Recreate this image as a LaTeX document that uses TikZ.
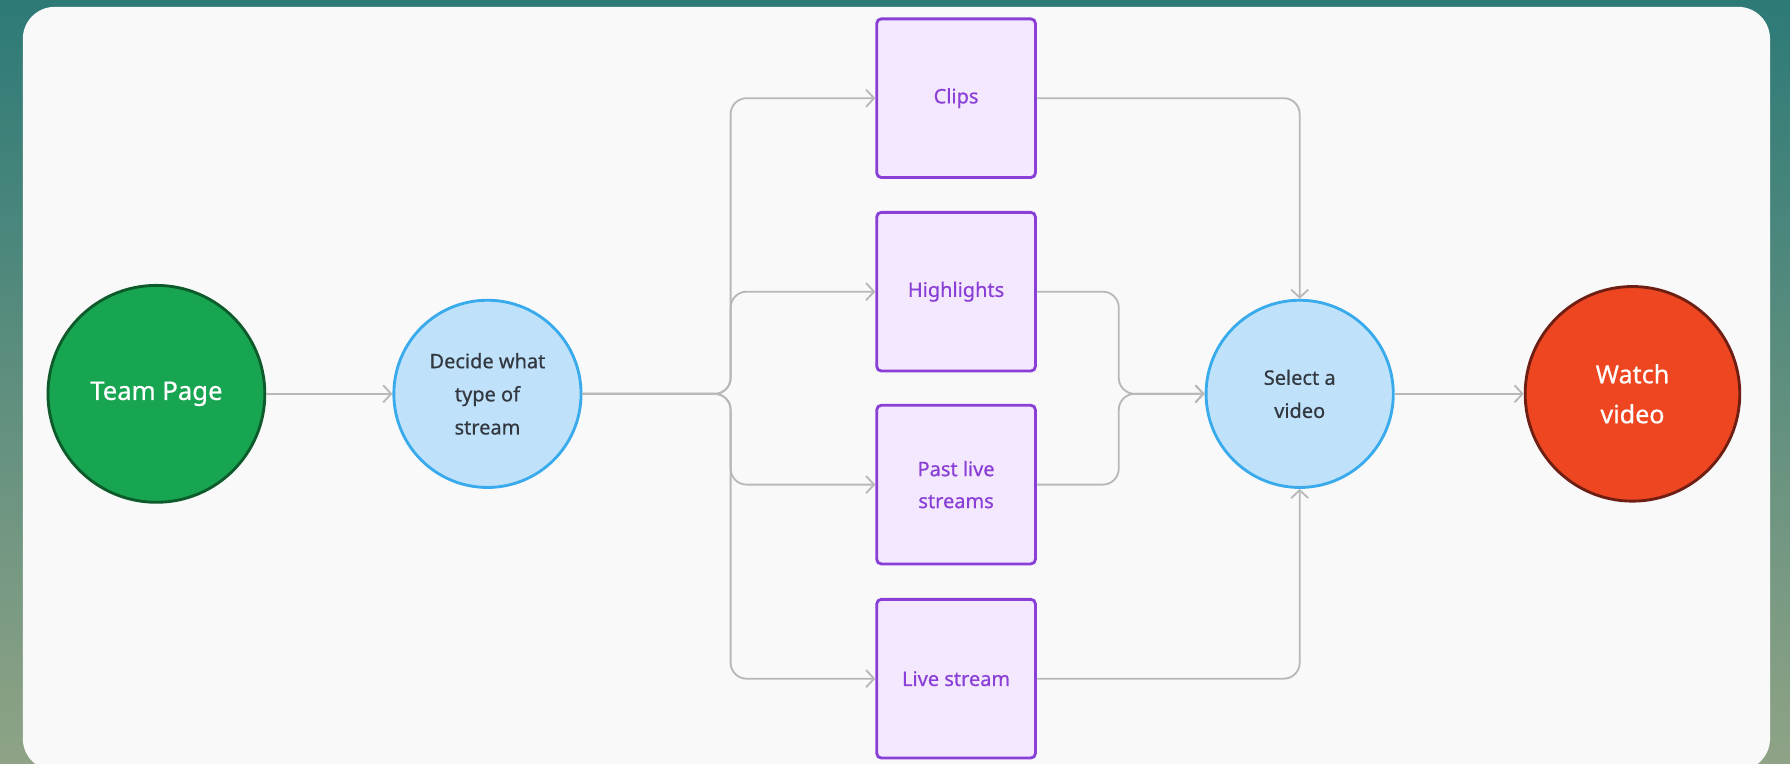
\documentclass[tikz,border=0pt]{standalone}
\usepackage{fontspec}
\setmainfont{Noto Sans}
\newfontface\medfont{Noto Sans}[FakeBold=0.6]
\usetikzlibrary{arrows.meta}
\definecolor{bgtop}{HTML}{2D7A77}
\definecolor{bgbot}{HTML}{8FA386}
\definecolor{cardfill}{HTML}{F9F9F9}
\definecolor{greenfill}{HTML}{17A552}
\definecolor{greenline}{HTML}{0D5A2B}
\definecolor{bluefill}{HTML}{BFE2FA}
\definecolor{blueline}{HTML}{39ABEC}
\definecolor{purplefill}{HTML}{F4E8FE}
\definecolor{purpleline}{HTML}{8A3FD6}
\definecolor{redfill}{HTML}{EE4621}
\definecolor{redline}{HTML}{6E1E12}
\definecolor{connline}{HTML}{B8B8B8}
\definecolor{darktext}{HTML}{333840}
\tikzset{
  bigcirc/.style={circle, line width=2.5pt, inner sep=0pt, align=center},
  greencirc/.style={bigcirc, fill=greenfill, draw=greenline, text=white, minimum size=190pt, font=\medfont\fontsize{22.5}{35}\selectfont},
  bluecirc/.style={bigcirc, fill=bluefill, draw=blueline, text=darktext, minimum size=164pt, font=\medfont\fontsize{17.5}{29}\selectfont},
  redcirc/.style={bigcirc, fill=redfill, draw=redline, text=white, minimum size=188pt, font=\medfont\fontsize{22}{35}\selectfont},
  stepbox/.style={rectangle, rounded corners=4pt, line width=2.5pt, fill=purplefill, draw=purpleline, text=purpleline, minimum width=139pt, minimum height=139pt, inner sep=0pt, align=center, font=\medfont\fontsize{17.5}{28}\selectfont},
  conn/.style={draw=connline, line width=1.6pt, rounded corners=14pt, -{Straight Barb[length=7pt,width=15pt,line width=1.6pt]}}
}
\begin{document}
\begin{tikzpicture}[x=1pt,y=-1pt]
\useasboundingbox (0,0) rectangle (1568,669);
\shade[top color=bgtop, bottom color=bgbot] (0,0) rectangle (1568,669);
\fill[cardfill, rounded corners=28pt] (20,6) rectangle (1550.5,675);

\node[greencirc] (team) at (137,345) {Team Page};
\node[bluecirc] (decide) at (427,345) {Decide what\\type of\\stream};
\node[stepbox] (clips) at (837.5,86) {Clips};
\node[stepbox] (high) at (837.5,255.5) {Highlights};
\node[stepbox] (past) at (837.5,424.5) {Past live\\streams};
\node[stepbox] (live) at (837.5,594.5) {Live stream};
\node[bluecirc] (select) at (1138.5,345) {Select a\\video};
\node[redcirc] (watch) at (1430,345) {Watch\\video};

\coordinate (split) at (640,345);
\coordinate (merge) at (980,345);
\coordinate (topc) at (1138.5,86);
\coordinate (botc) at (1138.5,594.5);

\draw[conn] (team) -- (decide);
\draw[conn] (decide.east) -- (split) |- (clips.west);
\draw[conn] (decide.east) -- (split) |- (high.west);
\draw[conn] (decide.east) -- (split) |- (past.west);
\draw[conn] (decide.east) -- (split) |- (live.west);
\draw[conn] (clips.east) -- (topc) -- (select.north);
\draw[conn] (live.east) -- (botc) -- (select.south);
\draw[conn] (high.east) -| (merge) -- (select.west);
\draw[conn] (past.east) -| (merge) -- (select.west);
\draw[conn] (select) -- (watch);
\end{tikzpicture}
\end{document}
